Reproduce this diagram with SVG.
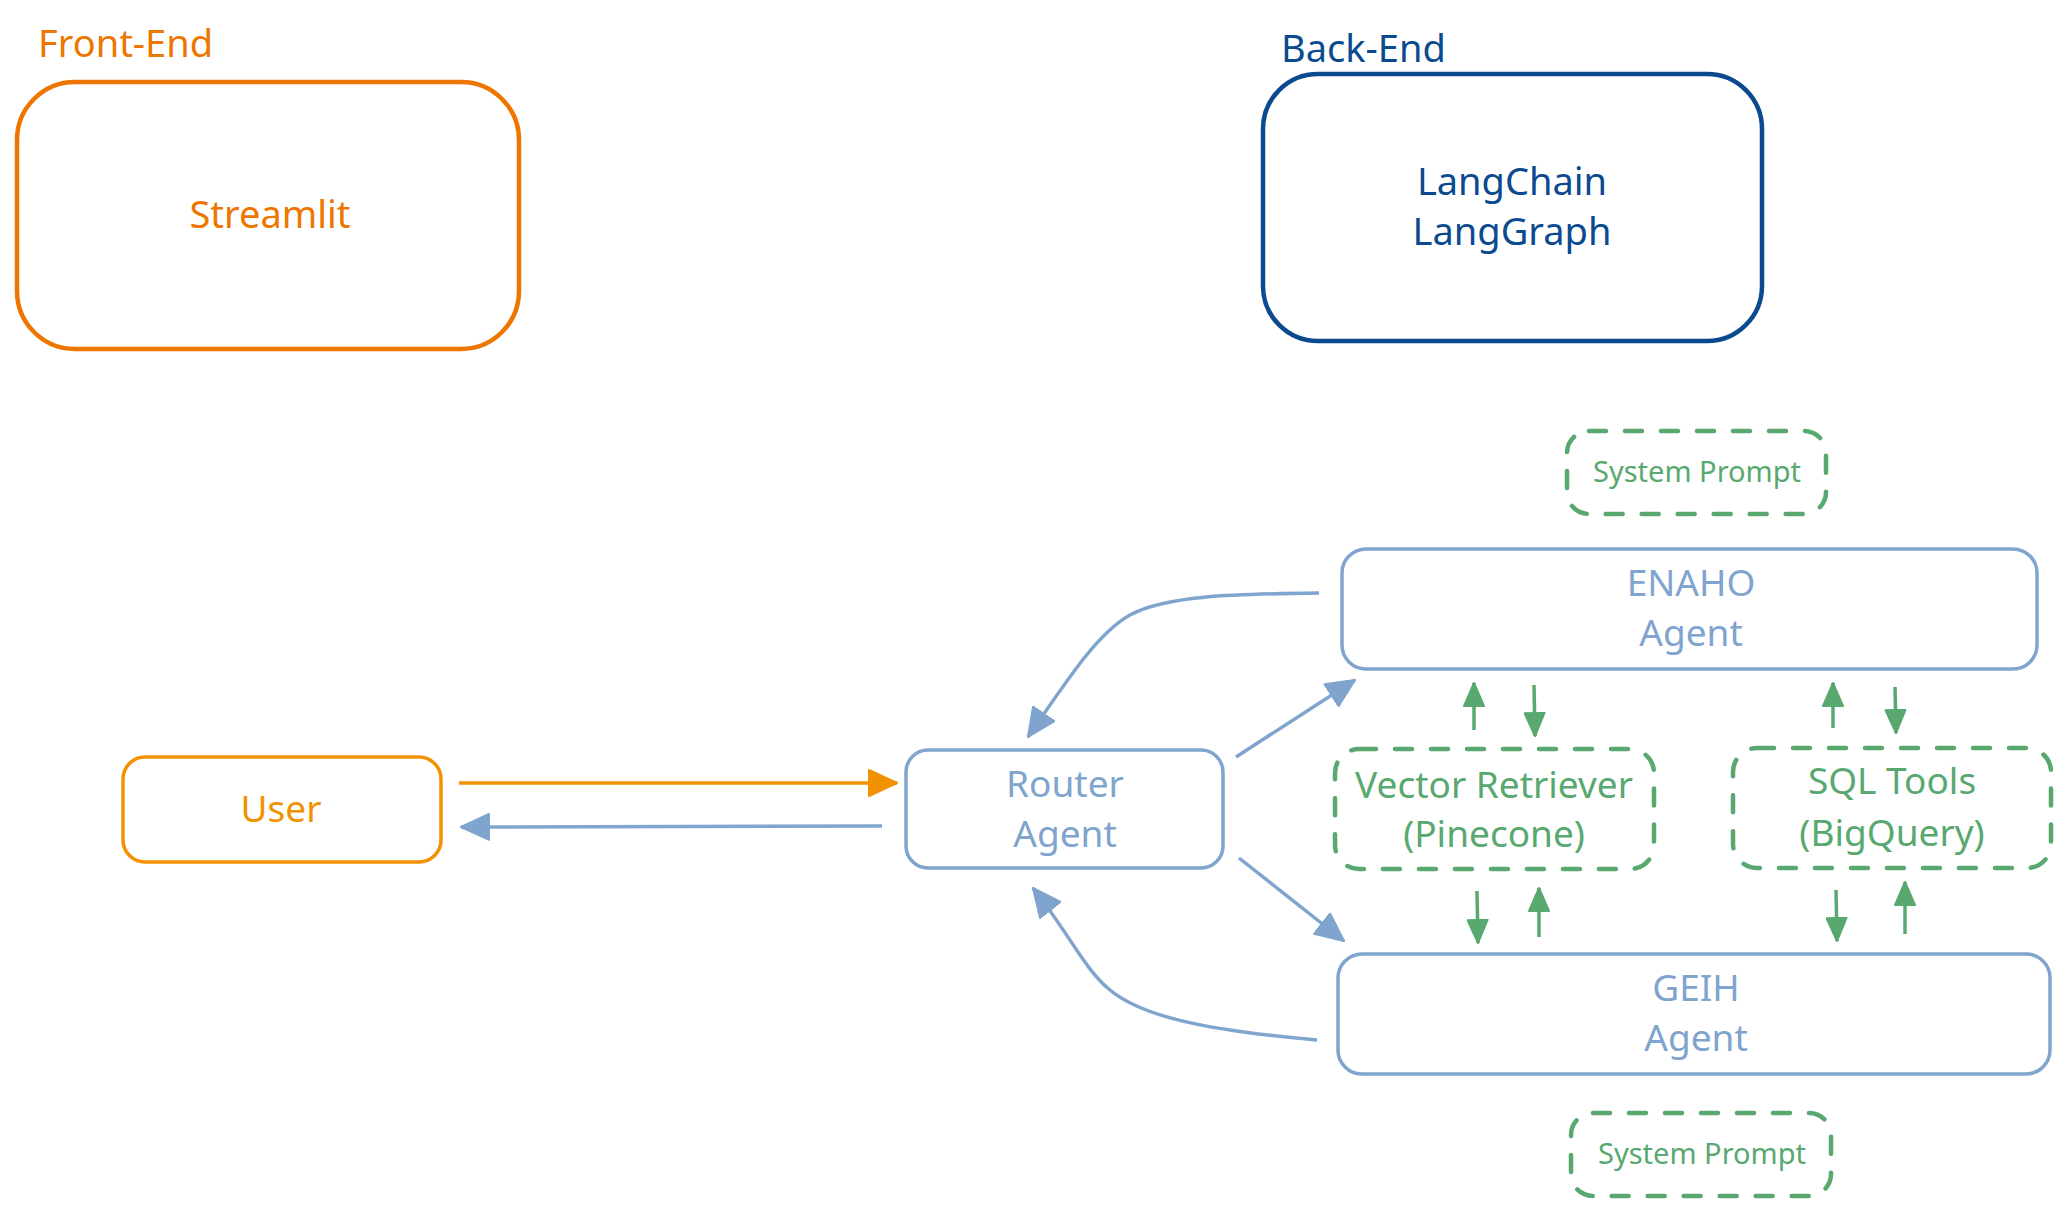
<svg xmlns="http://www.w3.org/2000/svg" width="2071" height="1215" viewBox="0 0 2071 1215">
<style>
text{font-family:"Noto Sans","Open Sans","Liberation Sans",sans-serif;text-anchor:middle}
.fe{fill:#EE7600}
.be{fill:#0B4A8F}
.us{fill:#F39200}
.bl{fill:#7FA4CD}
.gr{fill:#58A86F}
.big{font-size:38px}
.mid{font-size:37px}
.sm{font-size:29px}
.box-fe{fill:none;stroke:#EE7600;stroke-width:4.5}
.box-be{fill:none;stroke:#0B4A8F;stroke-width:4.5}
.box-us{fill:#fff;stroke:#F39200;stroke-width:3.5}
.box-bl{fill:#fff;stroke:#7FA4CD;stroke-width:3.5}
.box-gr{fill:#fff;stroke:#58A86F;stroke-width:4.5;stroke-dasharray:17 19;stroke-linecap:round}
.c-or{fill:none;stroke:#F39200;stroke-width:3.5}
.c-bl{fill:none;stroke:#7FA4CD;stroke-width:3.5}
.c-gr{fill:none;stroke:#58A86F;stroke-width:3.5}
</style>
<defs>
<marker id="aOr" viewBox="0 0 30 28" refX="29" refY="14" markerWidth="30" markerHeight="28" markerUnits="userSpaceOnUse" orient="auto"><path d="M1,1 L29,14 L1,27 Z" fill="#F39200" stroke="#F39200" stroke-width="2" stroke-linejoin="round"/></marker>
<marker id="aBl" viewBox="0 0 30 28" refX="29" refY="14" markerWidth="30" markerHeight="28" markerUnits="userSpaceOnUse" orient="auto"><path d="M1,1 L29,14 L1,27 Z" fill="#7FA4CD" stroke="#7FA4CD" stroke-width="2" stroke-linejoin="round"/></marker>
<marker id="aGr" viewBox="0 0 25 22" refX="24" refY="11" markerWidth="25" markerHeight="22" markerUnits="userSpaceOnUse" orient="auto"><path d="M1,1 L24,11 L1,21 Z" fill="#58A86F" stroke="#58A86F" stroke-width="2" stroke-linejoin="round"/></marker>
</defs>

<g id="front-end">
<text class="fe big" x="38" y="57" style="text-anchor:start">Front-End</text>
<rect class="box-fe" x="17" y="82" width="502" height="267" rx="58"/>
<text class="fe big" x="270" y="228" font-size="39">Streamlit</text>
</g>

<g id="back-end">
<text class="be big" x="1281" y="62" style="text-anchor:start">Back-End</text>
<rect class="box-be" x="1263" y="74" width="499" height="267" rx="55"/>
<text class="be big" x="1512" y="195">LangChain</text>
<text class="be big" x="1512" y="245">LangGraph</text>
</g>

<g id="connectors">
<path class="c-or" d="M459,783 L897,783" marker-end="url(#aOr)"/>
<path class="c-bl" d="M882,826 L461,827" marker-end="url(#aBl)"/>
<path class="c-bl" d="M1319,593 C1230,594 1165,596 1130,615 C1100,632 1075,668 1028,737" marker-end="url(#aBl)"/>
<path class="c-bl" d="M1236,757 L1355,680" marker-end="url(#aBl)"/>
<path class="c-bl" d="M1239,858 L1344,941" marker-end="url(#aBl)"/>
<path class="c-bl" d="M1317,1040 C1200,1030 1140,1015 1110,990 C1085,970 1070,935 1033,888" marker-end="url(#aBl)"/>
<path class="c-gr" d="M1474,730 L1474,683" marker-end="url(#aGr)"/>
<path class="c-gr" d="M1534,685 L1535,736" marker-end="url(#aGr)"/>
<path class="c-gr" d="M1833,728 L1833,683" marker-end="url(#aGr)"/>
<path class="c-gr" d="M1895,687 L1896,733" marker-end="url(#aGr)"/>
<path class="c-gr" d="M1477,891 L1478,943" marker-end="url(#aGr)"/>
<path class="c-gr" d="M1539,937 L1539,888" marker-end="url(#aGr)"/>
<path class="c-gr" d="M1836,890 L1837,941" marker-end="url(#aGr)"/>
<path class="c-gr" d="M1905,934 L1905,882" marker-end="url(#aGr)"/>
</g>

<g id="user">
<rect class="box-us" x="123" y="757" width="318" height="105" rx="22"/>
<text class="us mid" x="281" y="822">User</text>
</g>

<g id="router">
<rect class="box-bl" x="906" y="750" width="317" height="118" rx="22"/>
<text class="bl mid" x="1065" y="797">Router</text>
<text class="bl mid" x="1065" y="847">Agent</text>
</g>

<g id="prompt-top">
<rect class="box-gr" x="1567" y="431" width="259" height="83" rx="22"/>
<text class="gr sm" x="1697" y="482">System Prompt</text>
</g>

<g id="enaho">
<rect class="box-bl" x="1342" y="549" width="695" height="120" rx="24"/>
<text class="bl mid" x="1691" y="596">ENAHO</text>
<text class="bl mid" x="1691" y="646">Agent</text>
</g>

<g id="vector">
<rect class="box-gr" x="1335" y="749" width="319" height="120" rx="24"/>
<text class="gr mid" x="1494" y="798">Vector Retriever</text>
<text class="gr mid" x="1494" y="847">(Pinecone)</text>
</g>

<g id="sql">
<rect class="box-gr" x="1733" y="748" width="318" height="120" rx="24"/>
<text class="gr mid" x="1892" y="794">SQL Tools</text>
<text class="gr mid" x="1892" y="846">(BigQuery)</text>
</g>

<g id="geih">
<rect class="box-bl" x="1338" y="954" width="712" height="120" rx="24"/>
<text class="bl mid" x="1696" y="1001">GEIH</text>
<text class="bl mid" x="1696" y="1051">Agent</text>
</g>

<g id="prompt-bottom">
<rect class="box-gr" x="1571" y="1113" width="260" height="83" rx="22"/>
<text class="gr sm" x="1702" y="1164">System Prompt</text>
</g>
</svg>
